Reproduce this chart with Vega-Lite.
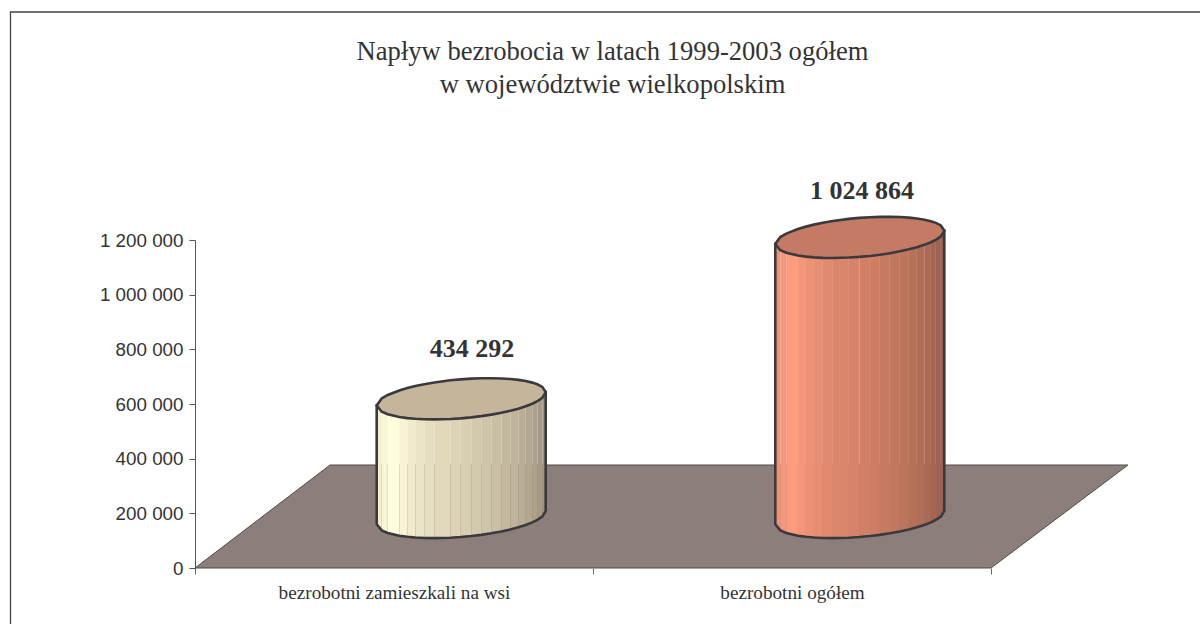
{
"$schema":"https://vega.github.io/schema/vega-lite/v6.json",
"width":933,"height":328,
"autosize":{"type":"none"},
"padding":{"left":195,"top":240,"right":72,"bottom":56},
"background":"white",
"config":{"view":{"stroke":null}},
"title":{"text":["Napływ bezrobocia w latach 1999-2003 ogółem","w województwie wielkopolskim"],"font":"Liberation Serif","fontSize":26.6,"fontWeight":"normal","color":"#333333","lineHeight":33,"anchor":"middle","dx":-49,"offset":-89},
"datasets":{
"rim":[
{"cyl":"a","pos":0.45653,"base":160244,"rim":594536,"topLow":594536,"topHigh":594536,"strips":["a01"]},
{"cyl":"a","pos":0.46910,"base":137525,"rim":595987,"topLow":571817,"topHigh":620157,"strips":["a01","a02"]},
{"cyl":"a","pos":0.48417,"base":128232,"rim":597728,"topLow":562524,"topHigh":632931,"strips":["a02","a03"]},
{"cyl":"a","pos":0.51332,"base":118244,"rim":601093,"topLow":552536,"topHigh":649650,"strips":["a03","a04"]},
{"cyl":"a","pos":0.53342,"base":114183,"rim":603412,"topLow":548475,"topHigh":658348,"strips":["a04","a05"]},
{"cyl":"a","pos":0.55352,"base":111549,"rim":605733,"topLow":545841,"topHigh":665625,"strips":["a05","a06"]},
{"cyl":"a","pos":0.57613,"base":109866,"rim":608343,"topLow":544158,"topHigh":672529,"strips":["a06","a07"]},
{"cyl":"a","pos":0.60126,"base":109317,"rim":611246,"topLow":543609,"topHigh":678883,"strips":["a07","a08"]},
{"cyl":"a","pos":0.64146,"base":110854,"rim":615886,"topLow":545146,"topHigh":686626,"strips":["a08","a09"]},
{"cyl":"a","pos":0.66759,"base":113268,"rim":618904,"topLow":547560,"topHigh":690247,"strips":["a09","a10"]},
{"cyl":"a","pos":0.69422,"base":116854,"rim":621977,"topLow":551146,"topHigh":692808,"strips":["a10","a11"]},
{"cyl":"a","pos":0.71935,"base":121281,"rim":624879,"topLow":555573,"topHigh":694186,"strips":["a11","a12"]},
{"cyl":"a","pos":0.74447,"base":126842,"rim":627779,"topLow":561134,"topHigh":694424,"strips":["a12","a13"]},
{"cyl":"a","pos":0.76960,"base":133610,"rim":630681,"topLow":567902,"topHigh":693461,"strips":["a13","a14"]},
{"cyl":"a","pos":0.79221,"base":140927,"rim":633292,"topLow":575219,"topHigh":691365,"strips":["a14","a15"]},
{"cyl":"a","pos":0.81231,"base":148720,"rim":635611,"topLow":583012,"topHigh":688210,"strips":["a15","a16"]},
{"cyl":"a","pos":0.83090,"base":157354,"rim":637758,"topLow":591646,"topHigh":683870,"strips":["a16","a17"]},
{"cyl":"a","pos":0.84749,"base":166829,"rim":639672,"topLow":601121,"topHigh":678224,"strips":["a17","a18"]},
{"cyl":"a","pos":0.86005,"base":175830,"rim":641123,"topLow":610122,"topHigh":672125,"strips":["a18","a19"]},
{"cyl":"a","pos":0.87261,"base":188268,"rim":642575,"topLow":622560,"topHigh":662590,"strips":["a19","a20"]},
{"cyl":"a","pos":0.88116,"base":209268,"rim":643560,"topLow":643560,"topHigh":643560,"strips":["a20"]},
{"cyl":"b","pos":1.45804,"base":160244,"rim":1185108,"topLow":1185108,"topHigh":1185108,"strips":["b01"]},
{"cyl":"b","pos":1.47061,"base":137525,"rim":1186559,"topLow":1162389,"topHigh":1210729,"strips":["b01","b02"]},
{"cyl":"b","pos":1.48568,"base":128232,"rim":1188300,"topLow":1153096,"topHigh":1223503,"strips":["b02","b03"]},
{"cyl":"b","pos":1.51483,"base":118244,"rim":1191665,"topLow":1143108,"topHigh":1240222,"strips":["b03","b04"]},
{"cyl":"b","pos":1.53493,"base":114183,"rim":1193984,"topLow":1139047,"topHigh":1248920,"strips":["b04","b05"]},
{"cyl":"b","pos":1.55503,"base":111549,"rim":1196305,"topLow":1136413,"topHigh":1256197,"strips":["b05","b06"]},
{"cyl":"b","pos":1.57764,"base":109866,"rim":1198915,"topLow":1134730,"topHigh":1263101,"strips":["b06","b07"]},
{"cyl":"b","pos":1.60277,"base":109317,"rim":1201818,"topLow":1134181,"topHigh":1269455,"strips":["b07","b08"]},
{"cyl":"b","pos":1.64297,"base":110854,"rim":1206458,"topLow":1135718,"topHigh":1277198,"strips":["b08","b09"]},
{"cyl":"b","pos":1.66910,"base":113268,"rim":1209476,"topLow":1138132,"topHigh":1280819,"strips":["b09","b10"]},
{"cyl":"b","pos":1.69573,"base":116854,"rim":1212549,"topLow":1141718,"topHigh":1283380,"strips":["b10","b11"]},
{"cyl":"b","pos":1.72086,"base":121281,"rim":1215451,"topLow":1146145,"topHigh":1284758,"strips":["b11","b12"]},
{"cyl":"b","pos":1.74598,"base":126842,"rim":1218351,"topLow":1151706,"topHigh":1284996,"strips":["b12","b13"]},
{"cyl":"b","pos":1.77111,"base":133610,"rim":1221253,"topLow":1158474,"topHigh":1284033,"strips":["b13","b14"]},
{"cyl":"b","pos":1.79372,"base":140927,"rim":1223864,"topLow":1165791,"topHigh":1281937,"strips":["b14","b15"]},
{"cyl":"b","pos":1.81382,"base":148720,"rim":1226183,"topLow":1173584,"topHigh":1278782,"strips":["b15","b16"]},
{"cyl":"b","pos":1.83241,"base":157354,"rim":1228330,"topLow":1182218,"topHigh":1274442,"strips":["b16","b17"]},
{"cyl":"b","pos":1.84900,"base":166829,"rim":1230244,"topLow":1191693,"topHigh":1268796,"strips":["b17","b18"]},
{"cyl":"b","pos":1.86156,"base":175830,"rim":1231695,"topLow":1200694,"topHigh":1262697,"strips":["b18","b19"]},
{"cyl":"b","pos":1.87412,"base":188268,"rim":1233147,"topLow":1213132,"topHigh":1253162,"strips":["b19","b20"]},
{"cyl":"b","pos":1.88267,"base":209268,"rim":1234132,"topLow":1234132,"topHigh":1234132,"strips":["b20"]}
],
"floor":[
{"pos":0,"low":0,"high":0},
{"pos":0.3392,"low":0,"high":376830},
{"pos":2,"low":0,"high":376830},
{"pos":2.3442,"low":376830,"high":376830}
],
"frame":[
{"seq":1,"pos":-0.4636,"val":-226830},
{"seq":2,"pos":-0.4636,"val":2034148},
{"seq":3,"pos":2.5377,"val":2034148}
],
"labels":[
{"cyl":"a","value":434292,"label":"434 292","pos":0.696,"labelY":801220},
{"cyl":"b","value":1024864,"label":"1 024 864","pos":1.676,"labelY":1379269}
]
},
"encoding":{
"x":{"field":"pos","type":"quantitative","scale":{"domain":[0,2.3442],"nice":false,"zero":false},
"axis":{"title":null,"grid":false,"domain":false,"values":[0,0.5,1,1.5,2],"tickSize":6,"tickColor":"#666666","tickWidth":1,
"tickOpacity":{"condition":{"test":"datum.value % 1 == 0","value":1},"value":0},
"labelExpr":"datum.value == 0.5 ? 'bezrobotni zamieszkali na wsi' : datum.value == 1.5 ? 'bezrobotni ogółem' : ''",
"labelFont":"Liberation Serif","labelFontSize":19.2,"labelLimit":500,"labelColor":"#333333","labelPadding":9,"labelOverlap":false,"labelBound":false,"labelFlush":false}}
},
"layer":[
{"data":{"name":"frame"},"mark":{"type":"line","color":"#444444","strokeWidth":1.3},
 "encoding":{"y":{"field":"val","type":"quantitative"},"order":{"field":"seq","type":"ordinal"}}},
{"data":{"name":"floor"},"mark":{"type":"area","fill":"#8C7F7B","stroke":"#4F4A4A","strokeWidth":1},
 "encoding":{"y":{"field":"low","type":"quantitative","stack":null,"scale":{"domain":[0,1200000],"nice":false,"zero":false},
   "axis":{"title":null,"grid":false,"values":[0,200000,400000,600000,800000,1000000,1200000],"domainColor":"#555555","tickColor":"#555555","tickSize":6,
   "labelExpr":"replace(format(datum.value, ','), /,/g, ' ')","labelFont":"Liberation Sans","labelFontSize":18.8,"labelColor":"#333333","labelPadding":6,"labelOverlap":false,"labelBound":false,"labelFlush":false}},
   "y2":{"field":"high"}}},
{"data":{"name":"rim"},"transform":[{"flatten":["strips"]}],"mark":{"type":"area"},
 "encoding":{"y":{"field":"base","type":"quantitative","stack":null},"y2":{"field":"rim"},
  "color":{"field":"strips","type":"nominal","legend":null,"scale":{
   "domain":["a01","a02","a03","a04","a05","a06","a07","a08","a09","a10","a11","a12","a13","a14","a15","a16","a17","a18","a19","a20","b01","b02","b03","b04","b05","b06","b07","b08","b09","b10","b11","b12","b13","b14","b15","b16","b17","b18","b19","b20"],
   "range":["#F3EED0","#FAF6D5","#FFFDDB","#F8F3D2","#F1EBCB","#EBE4C5","#E6DEC0","#E1D8BA","#DCD3B5","#D8CEB1","#D3CAAD","#CEC4A8","#C9BFA4","#C4B99F","#BFB39A","#B9AD95","#B3A78F","#ADA18A","#A79B85","#A19580","#EE9277","#F6977B","#FD9B7D","#F5967A","#EC9176","#E68D72","#E0896F","#DB866C","#D68369","#D18066","#CC7D64","#C77A61","#C2775F","#BD745C","#B77159","#B16D57","#AA6A55","#A46652","#9E6350","#98604E"]}}}},
{"data":{"name":"rim"},"mark":{"type":"area","fill":null,"fillOpacity":0,"stroke":"#3A3A3E","strokeWidth":2.6},
 "encoding":{"y":{"field":"base","type":"quantitative","stack":null},"y2":{"field":"rim"},"detail":{"field":"cyl","type":"nominal"}}},
{"data":{"name":"rim"},"mark":{"type":"area","stroke":"#3A3A3E","strokeWidth":2.6},
 "encoding":{"y":{"field":"topLow","type":"quantitative","stack":null},"y2":{"field":"topHigh"},
  "fill":{"field":"cyl","type":"nominal","legend":null,"scale":{"domain":["a","b"],"range":["#C4B59B","#C47A63"]}}}},
{"data":{"name":"labels"},"mark":{"type":"text","font":"Liberation Serif","fontSize":26,"fontWeight":"bold","color":"#333333","align":"center","baseline":"middle"},
 "encoding":{"y":{"field":"labelY","type":"quantitative"},"text":{"field":"label"}}}
],
"resolve":{"scale":{"color":"independent"}}
}
